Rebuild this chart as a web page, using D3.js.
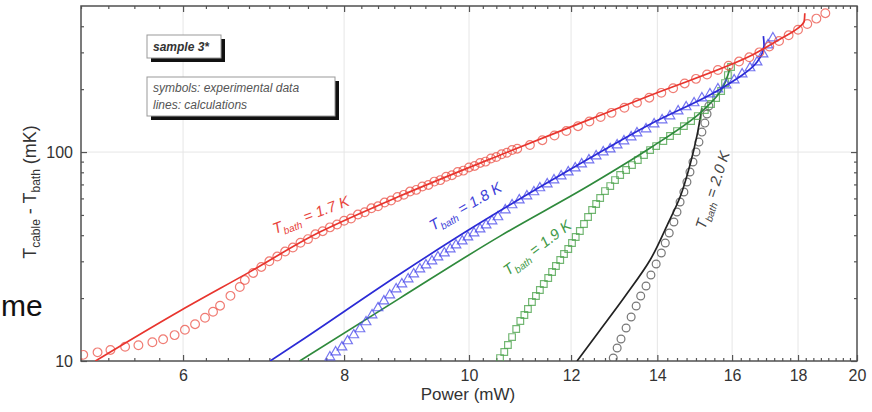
<!DOCTYPE html>
<html>
<head>
<meta charset="utf-8">
<script src="https://cdn.jsdelivr.net/npm/d3@7"></script>
<style>
  body { margin: 0; background: #fff; }
  svg { display: block; font-family: 'Liberation Sans', Arial, sans-serif; }
</style>
</head>
<body>
<svg id="chart" width="872" height="412"></svg>
<script>
// axis ticks
const powerTicks = [6, 8, 10, 12, 14, 16, 18, 20];
const tempTicks = [10, 100];
const tempMinorTicks = [20, 30, 40, 50, 60, 70, 80, 90, 200, 300, 400];

// T_bath = 1.7 K
const redCalcP = [5.13, 5.97, 6.76, 7.66, 8.84, 10.67, 12.2, 13.8, 16.6, 17.4, 18.0, 18.2, 18.22];
const redCalcT = [10, 17.4, 26.7, 41.4, 61.6, 99, 137.5, 186, 292, 345, 392, 422, 462];
const redExpP = [5.02, 5.15, 5.27, 5.41, 5.54, 5.68, 5.79, 5.91, 6.02, 6.13, 6.24, 6.33, 6.41, 6.53, 6.64,
  6.7, 6.8, 6.9, 7.0, 7.1, 7.2, 7.3, 7.4, 7.5, 7.6, 7.7, 7.8, 7.9, 8.0, 8.1, 8.2, 8.3, 8.4, 8.5, 8.6,
  8.7, 8.8, 8.9, 9.0, 9.1, 9.2, 9.3, 9.4, 9.5, 9.6, 9.7, 9.8, 9.9, 10.0, 10.1, 10.2, 10.3, 10.4, 10.5,
  10.6, 10.7, 10.8, 10.9, 11.15, 11.4, 11.65, 11.9, 12.15, 12.4, 12.65, 12.9, 13.2, 13.5, 13.8, 14.1,
  14.4, 14.7, 15.0, 15.3, 15.6, 15.9, 16.2, 16.5, 16.8, 17.1, 17.4, 17.7, 18.0, 18.3, 18.6, 18.9];
const redExpT = [10.7, 11.0, 11.3, 11.7, 11.9, 12.3, 12.7, 13.3, 14.1, 15.0, 16.1, 17.2, 18.4, 20.5, 22.6,
  24.4, 26.4, 28.2, 30.0, 31.6, 33.4, 34.9, 36.8, 38.3, 40.4, 41.8, 43.6, 45.0, 46.9, 48.1, 50.2, 51.5,
  53.8, 55.0, 57.3, 58.6, 61.0, 62.4, 64.7, 65.9, 68.4, 69.6, 72.2, 73.4, 76.2, 77.5, 80.3, 81.5, 84.4,
  85.8, 88.7, 90.0, 93.1, 94.6, 97.6, 99.2, 102.3, 103.8, 108, 114, 120, 126, 133, 140, 147, 154, 163,
  172, 182, 192, 202, 213, 224, 235, 247, 259, 271, 284, 300, 320, 340, 362, 385, 410, 435, 462];

// T_bath = 1.8 K
const blueCalcP = [7.01, 7.39, 8.84, 10.02, 11.35, 12.41, 13.82, 15.66, 16.73, 16.94, 16.92];
const blueCalcT = [10, 12.4, 26.1, 42.8, 68.0, 93.6, 136, 200, 270, 325, 359];
const blueExpP = [7.80, 7.88, 7.97, 8.05, 8.14, 8.23, 8.32, 8.41, 8.50, 8.59, 8.68, 8.78, 8.87, 8.97,
  9.06, 9.16, 9.26, 9.36, 9.46, 9.57, 9.67, 9.77, 9.88, 9.98, 10.09, 10.20, 10.31, 10.42, 10.53, 10.67,
  10.80, 10.94, 11.09, 11.23, 11.35, 11.50, 11.64, 11.79, 11.94, 12.09, 12.23, 12.39, 12.55, 12.71,
  12.87, 13.03, 13.19, 13.36, 13.50, 13.72, 13.92, 14.12, 14.32, 14.53, 14.74, 14.95, 15.16, 15.38,
  15.60, 15.83, 16.06, 16.29, 16.52, 16.73, 16.91, 17.06, 17.21];
const blueExpT = [10.45, 11.04, 11.66, 12.47, 13.32, 14.23, 15.37, 16.60, 17.94, 19.36, 20.69, 22.10,
  23.36, 24.68, 26.08, 27.56, 28.80, 30.10, 31.45, 32.86, 34.34, 35.89, 37.50, 39.19, 40.96, 42.8,
  44.74, 46.76, 48.9, 52.8, 55.8, 58.9, 61.6, 64.4, 67.3, 70.3, 73.45, 76.8, 80.2, 83.8, 87.6, 91.6,
  95.7, 100, 103.3, 108.0, 112.9, 118, 123.3, 128.9, 136.1, 142.3, 148.7, 157.1, 164.3, 171.7, 181.4,
  189.5, 200.3, 209.3, 221.1, 236.2, 252.6, 269.6, 294.3, 325.1, 351.1];

// T_bath = 1.9 K
const greenCalcP = [7.39, 8.84, 10.57, 12.41, 13.82, 15.11, 15.66, 15.94];
const greenCalcT = [10, 20.0, 39.6, 69.5, 104.5, 153.7, 193.7, 252.4];
const greenExpP = [10.57, 10.65, 10.72, 10.80, 10.88, 10.96, 11.04, 11.11, 11.19, 11.27, 11.35, 11.43,
  11.52, 11.60, 11.68, 11.77, 11.85, 11.94, 12.02, 12.10, 12.19, 12.28, 12.37, 12.46, 12.55, 12.64,
  12.75, 12.87, 12.98, 13.10, 13.24, 13.38, 13.52, 13.67, 13.82, 13.97, 14.15, 14.32, 14.50, 14.68,
  14.87, 15.05, 15.24, 15.41, 15.55, 15.69, 15.80, 15.88, 15.97];
const greenExpT = [10.33, 11.04, 11.93, 13.02, 14.23, 15.54, 16.60, 17.74, 19.16, 20.46, 21.86, 23.36,
  24.95, 26.66, 28.48, 30.43, 32.51, 34.35, 36.70, 39.20, 41.88, 45.24, 48.87, 52.78, 56.39, 60.25,
  65.07, 68.75, 73.45, 77.62, 82.02, 86.66, 91.56, 96.74, 102.2, 106.8, 112.9, 119.3, 126.0, 133.1,
  140.7, 148.7, 158.9, 169.8, 181.3, 195.9, 213.9, 233.6, 255.2];

// T_bath = 2.0 K
const blackCalcP = [12.13, 12.64, 13.22, 13.82, 14.25, 14.58, 14.84, 15.03, 15.16];
const blackCalcT = [10, 14.07, 20.46, 30.43, 44.74, 60.9, 86.7, 120.6, 162.4];
const blackExpP = [12.94, 13.03, 13.12, 13.24, 13.36, 13.48, 13.59, 13.72, 13.84, 13.97, 14.10, 14.20,
  14.30, 14.42, 14.50, 14.58, 14.68, 14.76, 14.84, 14.92, 15.00, 15.08, 15.16, 15.24, 15.30, 15.35];
const blackExpT = [10.33, 11.54, 12.74, 14.38, 16.24, 18.33, 20.46, 22.85, 25.79, 29.12, 32.87, 36.70,
  40.96, 46.25, 51.63, 57.66, 64.36, 71.86, 80.23, 89.60, 100, 111.6, 124.6, 137.6, 152.0, 166.0];

const series = [
  { calcP: blackCalcP, calcT: blackCalcT, expP: blackExpP, expT: blackExpT, symbol: d3.symbolCircle, size: 48,
    line: '#222', mark: 'rgba(95,95,95,0.85)' },
  { calcP: greenCalcP, calcT: greenCalcT, expP: greenExpP, expT: greenExpT, symbol: d3.symbolSquare, size: 44,
    line: '#2f8a3c', mark: 'rgba(80,165,80,0.8)' },
  { calcP: blueCalcP, calcT: blueCalcT, expP: blueExpP, expT: blueExpT, symbol: d3.symbolTriangle, size: 40,
    line: '#2b2bd6', mark: 'rgba(70,70,235,0.75)' },
  { calcP: redCalcP, calcT: redCalcT, expP: redExpP, expT: redExpT, symbol: d3.symbolCircle, size: 60,
    line: '#e8352e', mark: 'rgba(235,80,70,0.75)' }
];

const svg = d3.select('#chart');
const margin = { top: 6, right: 15, bottom: 51, left: 81 };
const width = 872 - margin.left - margin.right;
const height = 412 - margin.top - margin.bottom;

const x = d3.scaleLog().domain([5, 20]).range([0, width]);
const y = d3.scaleLog().domain([10, 500]).range([height, 0]);

const chart = svg.append('g').attr('transform', `translate(${margin.left}, ${margin.top})`);

svg.append('defs').append('clipPath').attr('id', 'clip')
  .append('rect').attr('width', width).attr('height', height);

// grid
chart.append('g').selectAll('line').data(powerTicks.slice(0, -1)).enter().append('line')
  .attr('x1', d => x(d)).attr('x2', d => x(d)).attr('y1', 0).attr('y2', height)
  .attr('stroke', '#e6e6e6').attr('stroke-width', 1);
chart.append('line')
  .attr('x1', 0).attr('x2', width).attr('y1', y(100)).attr('y2', y(100))
  .attr('stroke', '#e6e6e6').attr('stroke-width', 1);

// axes
const minorPower = d3.range(5, 20.001, 0.25).filter(d => powerTicks.indexOf(d) < 0);
const fmt = d3.format('d');

chart.append('g').attr('class', 'axis axis-x')
  .attr('transform', `translate(0, ${height})`)
  .call(d3.axisBottom(x).tickValues(powerTicks).tickFormat(fmt).tickSize(-6).tickPadding(9));
chart.append('g').attr('transform', `translate(0, ${height})`)
  .call(d3.axisBottom(x).tickValues(minorPower).tickFormat('').tickSize(-3));
chart.append('g')
  .call(d3.axisTop(x).tickValues(powerTicks).tickFormat('').tickSize(-6));
chart.append('g')
  .call(d3.axisTop(x).tickValues(minorPower).tickFormat('').tickSize(-3));

chart.append('g').attr('class', 'axis axis-y')
  .call(d3.axisLeft(y).tickValues(tempTicks).tickFormat(fmt).tickSize(-6).tickPadding(8));
chart.append('g')
  .call(d3.axisLeft(y).tickValues(tempMinorTicks).tickFormat('').tickSize(-3));
chart.append('g').attr('transform', `translate(${width}, 0)`)
  .call(d3.axisRight(y).tickValues(tempTicks).tickFormat('').tickSize(-6));
chart.append('g').attr('transform', `translate(${width}, 0)`)
  .call(d3.axisRight(y).tickValues(tempMinorTicks).tickFormat('').tickSize(-3));

chart.selectAll('.domain').remove();
chart.selectAll('.tick line').attr('stroke', '#555').attr('stroke-width', 1.2);
chart.selectAll('.axis text').style('font-size', '16px').attr('fill', '#333')
  .style('font-family', "'Liberation Sans', Arial, sans-serif");

chart.append('rect').attr('width', width).attr('height', height)
  .attr('fill', 'none').attr('stroke', '#505050').attr('stroke-width', 1.5);

// data
const plot = chart.append('g').attr('clip-path', 'url(#clip)');
const line = d3.line().x(d => x(d[0])).y(d => y(d[1])).curve(d3.curveMonotoneY);

series.forEach(s => {
  const pts = s.expP.map((p, i) => [p, s.expT[i]]);
  plot.append('g').selectAll('path').data(pts).enter().append('path')
    .attr('transform', d => `translate(${x(d[0])}, ${y(d[1])})`)
    .attr('d', d3.symbol().type(s.symbol).size(s.size))
    .attr('fill', 'none').attr('stroke', s.mark).attr('stroke-width', 1.2);
  const calc = s.calcP.map((p, i) => [p, s.calcT[i]]);
  plot.append('path').datum(calc)
    .attr('d', line)
    .attr('fill', 'none').attr('stroke', s.line).attr('stroke-width', 1.7)
    .attr('stroke-linejoin', 'round');
});

// labels for bath temperature
function bathLabel(px, py, angle, text, color) {
  const t = svg.append('text')
    .attr('transform', `translate(${px}, ${py}) rotate(${angle})`)
    .attr('fill', color).style('font-size', '15px').style('font-style', 'italic');
  t.append('tspan').text('T');
  t.append('tspan').attr('dy', 4).style('font-size', '10px').text('bath');
  t.append('tspan').attr('dy', -4).text(' = ' + text);
}
bathLabel(275, 234, -21, '1.7 K', '#e8463e');
bathLabel(433, 231, -30, '1.8 K', '#3d3dd8');
bathLabel(508, 276, -37, '1.9 K', '#3f9a48');
bathLabel(705, 230, -72, '2.0 K', '#444');

// annotation boxes
function noteBox(bx, by, bw, bh) {
  svg.append('rect').attr('x', bx + 4).attr('y', by + 4).attr('width', bw).attr('height', bh).attr('fill', '#111');
  svg.append('rect').attr('x', bx).attr('y', by).attr('width', bw).attr('height', bh)
    .attr('fill', '#fff').attr('stroke', '#999').attr('stroke-width', 1);
}
noteBox(147, 35, 74, 23);
svg.append('text').attr('x', 153).attr('y', 51).text('sample 3*')
  .style('font-size', '12px').style('font-weight', 'bold').style('font-style', 'italic').attr('fill', '#333');
noteBox(147, 77, 188, 39);
svg.append('text').attr('x', 153).attr('y', 92).text('symbols: experimental data')
  .style('font-size', '12px').style('font-style', 'italic').attr('fill', '#555');
svg.append('text').attr('x', 153).attr('y', 109).text('lines: calculations')
  .style('font-size', '12px').style('font-style', 'italic').attr('fill', '#555');

// axis titles
const yt = svg.append('text').attr('transform', 'translate(36, 192) rotate(-90)')
  .attr('text-anchor', 'middle').style('font-size', '18px').attr('fill', '#333');
yt.append('tspan').text('T');
yt.append('tspan').attr('dy', 4).style('font-size', '12px').text('cable');
yt.append('tspan').attr('dy', -4).text(' - T');
yt.append('tspan').attr('dy', 4).style('font-size', '12px').text('bath');
yt.append('tspan').attr('dy', -4).text(' (mK)');

svg.append('text').attr('x', 468).attr('y', 400).attr('text-anchor', 'middle')
  .style('font-size', '17px').attr('fill', '#333').text('Power (mW)');

// slide text at the left edge
svg.append('text').attr('x', 1).attr('y', 316).style('font-size', '30px').attr('fill', '#111').text('me');
</script>
</body>
</html>
